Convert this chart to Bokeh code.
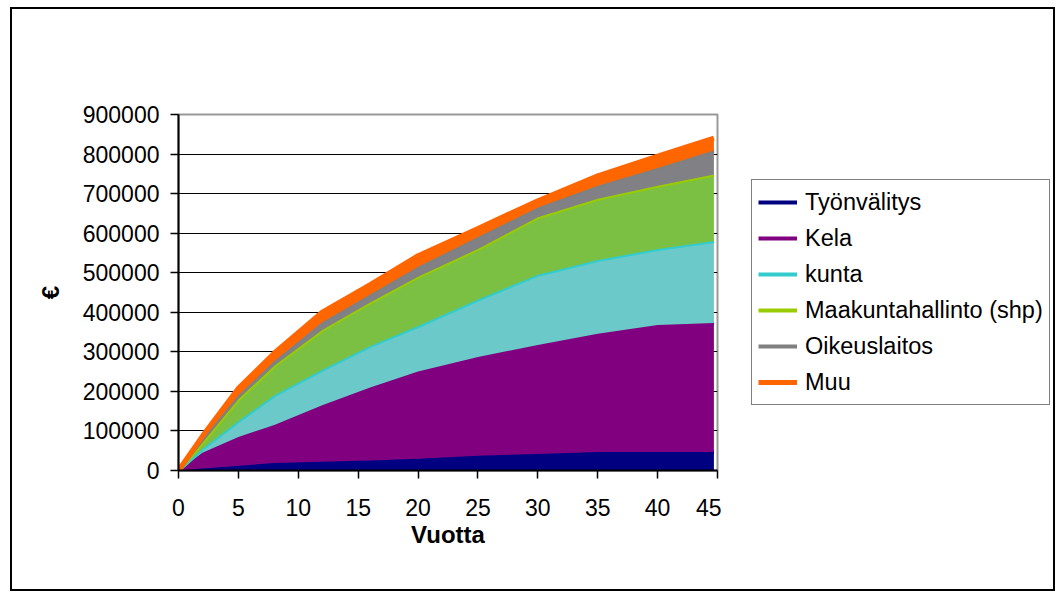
import numpy as np
from bokeh.plotting import figure
from bokeh.layouts import row
from bokeh.models import (ColumnDataSource, Range1d, FixedTicker, NumeralTickFormatter,
                          Legend, LegendItem)
from bokeh.embed import file_html
from bokeh.resources import INLINE

# ---- data ----
years = [0, 2, 5, 8, 12, 16, 20, 25, 30, 35, 40, 44.7]
series_names = ["Työnvälitys", "Kela", "kunta", "Maakuntahallinto (shp)", "Oikeuslaitos", "Muu"]
tyonvalitys = [0, 5000, 12000, 19000, 22000, 25000, 30000, 37000, 42000, 47000, 47000, 47000]
kela = [0, 40000, 73000, 96000, 143000, 185000, 220000, 250000, 275000, 299000, 321000, 326000]
kunta = [0, 10000, 40000, 75000, 90000, 105000, 115000, 145000, 178000, 186000, 192000, 207000]
maakunta = [0, 15000, 55000, 75000, 100000, 110000, 125000, 128000, 145000, 155000, 160000, 168000]
oikeus = [0, 10000, 10000, 12000, 20000, 20000, 25000, 30000, 25000, 33000, 45000, 61000]
muu = [0, 7000, 18000, 20000, 25000, 25000, 28000, 22000, 17000, 25000, 30000, 31000]
y_ticks = [0, 100000, 200000, 300000, 400000, 500000, 600000, 700000, 800000, 900000]
x_ticks = [0, 5, 10, 15, 20, 25, 30, 35, 40, 45]

line_colors = ["#000080", "#800080", "#33CCCC", "#99CC00", "#808080", "#FF6600"]
fill_colors = ["#000080", "#800080", "#6CC9C9", "#7CC043", "#818084", "#FF6600"]
line_widths = [4, 4, 4, 4, 4, 5]

values = [tyonvalitys, kela, kunta, maakunta, oikeus, muu]
cum = np.cumsum(np.array(values, dtype=float), axis=0)

FONT = "Liberation Sans"

p = figure(frame_width=539, frame_height=356, output_backend="svg", toolbar_location=None,
           x_range=Range1d(0, 45), y_range=Range1d(0, 900000),
           min_border_left=166, min_border_right=4, min_border_top=105, min_border_bottom=119)
p.background_fill_color = "white"
p.border_fill_color = "white"

# separate panel that only holds the legend (same series lines, outside its view)
lg = figure(width=332, height=580, output_backend="svg", toolbar_location=None,
            x_range=Range1d(1000, 1001), y_range=Range1d(0, 900000),
            x_axis_location=None, y_axis_location=None,
            min_border_left=0, min_border_right=0, min_border_top=0, min_border_bottom=0)
lg.grid.grid_line_color = None
lg.outline_line_color = None
lg.background_fill_color = "white"
lg.border_fill_color = "white"

items = []
for i, name in enumerate(series_names):
    bottom = np.zeros(len(years)) if i == 0 else cum[i - 1]
    src = ColumnDataSource(dict(x=years, y1=bottom, y2=cum[i]))
    p.varea(x="x", y1="y1", y2="y2", source=src, fill_color=fill_colors[i], fill_alpha=1.0)
    p.line(x="x", y="y2", source=src, line_color=line_colors[i], line_width=line_widths[i])
    lr = lg.line(x="x", y="y2", source=src, line_color=line_colors[i], line_width=line_widths[i])
    items.append(LegendItem(label=name, renderers=[lr]))

# grid
p.xgrid.grid_line_color = None
p.ygrid.grid_line_color = "#000000"
p.ygrid.grid_line_width = 1.2
p.ygrid.level = "underlay"
p.outline_line_color = "#999999"
p.outline_line_width = 2

# axes
for ax in (p.xaxis[0], p.yaxis[0]):
    ax.axis_line_color = "#000000"
    ax.axis_line_width = 2
    ax.major_tick_line_color = "#000000"
    ax.major_tick_line_width = 1.5
    ax.major_tick_out = 8
    ax.major_tick_in = 0
    ax.minor_tick_line_color = None
    ax.major_label_text_font = FONT
    ax.major_label_text_font_size = "23px"
    ax.major_label_text_color = "#000000"
    ax.axis_label_text_font = FONT
    ax.axis_label_text_font_size = "24px"
    ax.axis_label_text_font_style = "bold"
    ax.axis_label_text_color = "#000000"

p.yaxis.ticker = FixedTicker(ticks=y_ticks)
p.yaxis.formatter = NumeralTickFormatter(format="0")
p.yaxis.major_label_standoff = 11
p.yaxis.axis_label = "€"
p.yaxis.axis_label_standoff = 16

p.xaxis.ticker = FixedTicker(ticks=x_ticks)
p.xaxis.major_label_standoff = 20
p.xaxis.axis_label = "Vuotta"
p.xaxis.axis_label_standoff = 2

legend = Legend(items=items, location=(30, 65))
legend.label_text_font = FONT
legend.label_text_font_size = "23.5px"
legend.label_text_color = "#000000"
legend.glyph_width = 39
legend.glyph_height = 32
legend.label_height = 32
legend.label_standoff = 8
legend.spacing = 4
legend.padding = 6
legend.margin = 0
legend.border_line_color = "#000000"
legend.border_line_width = 1.5
legend.background_fill_color = "white"
legend.background_fill_alpha = 1.0
lg.add_layout(legend, "center")

page = row(p, lg, styles={"border": "2px solid #000000", "margin-left": "10px", "margin-top": "7px"})

open("out.html", "w").write(file_html(page, INLINE))
